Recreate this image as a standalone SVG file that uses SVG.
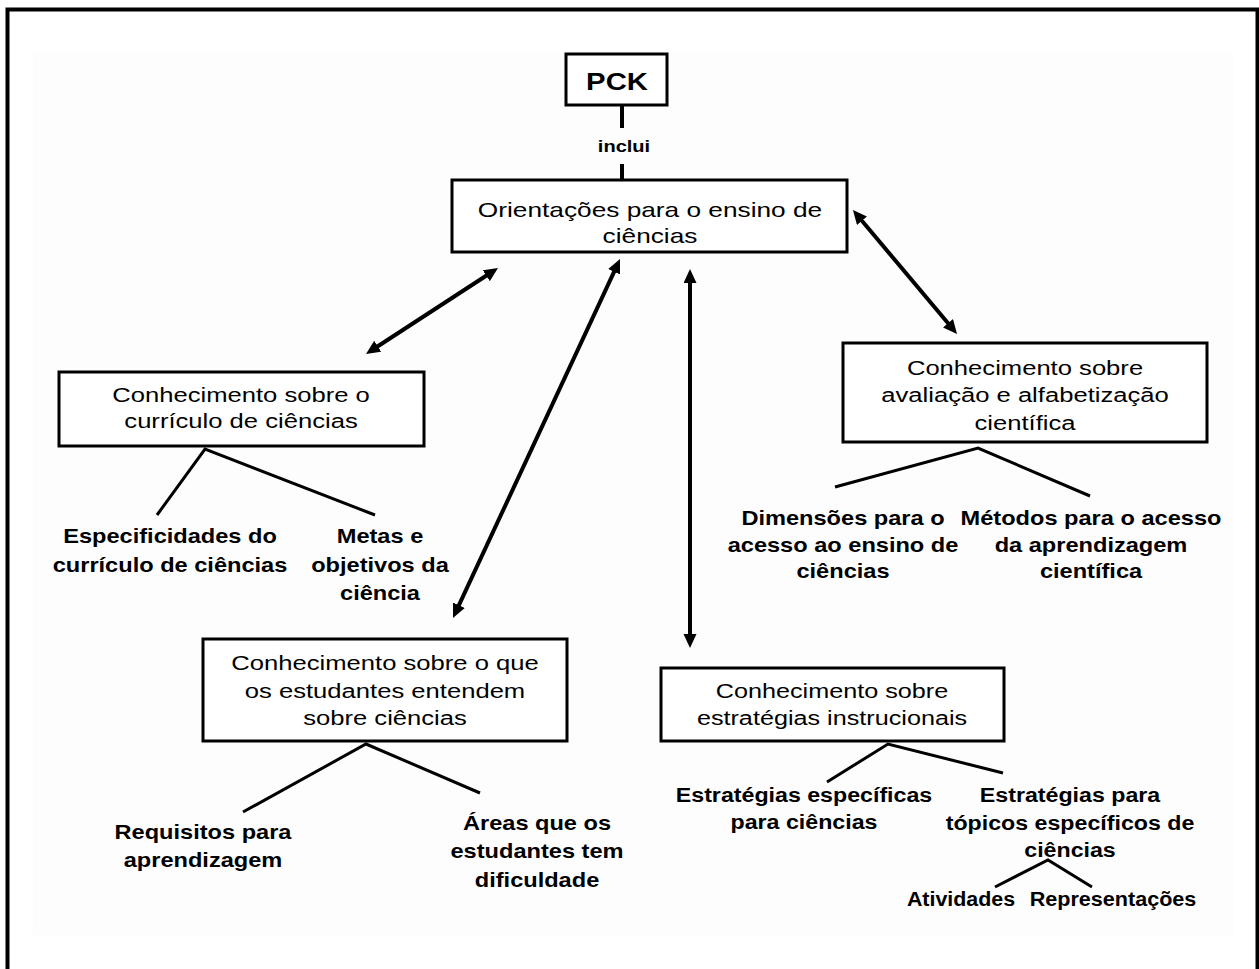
<svg xmlns="http://www.w3.org/2000/svg" width="1259" height="969" viewBox="0 0 1259 969">
  <defs>
    <style>
      .box { fill: #ffffff; stroke: #000000; stroke-width: 3; }
      .t { font-family: "Liberation Sans", Arial, sans-serif; font-size: 21px; fill: #000000; text-anchor: middle; }
      .b { font-family: "Liberation Sans", Arial, sans-serif; font-size: 20px; font-weight: bold; fill: #000000; text-anchor: middle; }
      .arrow { stroke: #000000; stroke-width: 4; fill: none; marker-start: url(#head); marker-end: url(#head); }
      .branch { stroke: #000000; stroke-width: 3; fill: none; }
      .link { stroke: #000000; stroke-width: 4; fill: none; }
    </style>
    <marker id="head" markerUnits="userSpaceOnUse" markerWidth="16" markerHeight="14" refX="4" refY="6.5" orient="auto-start-reverse">
      <path d="M0,0 L14,6.5 L0,13 z" fill="#000000"/>
    </marker>
  </defs>

  <!-- page -->
  <rect x="0" y="0" width="1259" height="969" fill="#ffffff"/>
  <rect x="33" y="53" width="1201" height="882" fill="#fdfdfd"/>
  <rect x="7.5" y="9.5" width="1250" height="980" fill="none" stroke="#000000" stroke-width="4"/>

  <!-- connectors -->
  <g id="connectors">
    <line class="link" x1="622" y1="105" x2="622" y2="128"/>
    <line class="link" x1="622" y1="164" x2="622" y2="180"/>
    <line class="arrow" x1="489.6" y1="273.5" x2="374.4" y2="348.5"/>
    <line class="arrow" x1="615.8" y1="268.1" x2="457.2" y2="608.9"/>
    <line class="arrow" x1="690" y1="279" x2="690" y2="638"/>
    <line class="arrow" x1="859.4" y1="217.7" x2="950.6" y2="326.3"/>
    <polyline class="branch" points="157,515 205,449 375,515"/>
    <polyline class="branch" points="835,487 978,448 1090,496"/>
    <polyline class="branch" points="243,812 366,744 480,793"/>
    <polyline class="branch" points="827,782 888,744 1003,773"/>
    <polyline class="branch" points="995,887 1048,860 1092,887"/>
  </g>

  <g id="pck">
    <rect class="box" x="566" y="54" width="101" height="51"/>
    <text class="b" style="font-size:24px" transform="translate(617,0) scale(1.22,1)" x="0" y="90">PCK</text>
  </g>

  <g id="inclui">
    <text class="b" style="font-size:17px" transform="translate(624,0) scale(1.18,1)" x="0" y="152">inclui</text>
  </g>

  <g id="orientacoes">
    <rect class="box" x="452" y="180" width="395" height="72"/>
    <text class="t" transform="translate(650,0) scale(1.25,1)" y="217"><tspan x="0">Orientações para o ensino de</tspan><tspan x="0" dy="26">ciências</tspan></text>
  </g>

  <g id="curriculo">
    <rect class="box" x="59" y="372" width="365" height="74"/>
    <text class="t" transform="translate(241,0) scale(1.22,1)" y="402"><tspan x="0">Conhecimento sobre o</tspan><tspan x="0" dy="26">currículo de ciências</tspan></text>
  </g>

  <g id="especificidades">
    <text class="b" transform="translate(170,0) scale(1.18,1)" y="543"><tspan x="0">Especificidades do</tspan><tspan x="0" dy="29">currículo de ciências</tspan></text>
  </g>

  <g id="metas">
    <text class="b" transform="translate(380,0) scale(1.18,1)" y="543"><tspan x="0">Metas e</tspan><tspan x="0" dy="29">objetivos da</tspan><tspan x="0" dy="28">ciência</tspan></text>
  </g>

  <g id="avaliacao">
    <rect class="box" x="843" y="343" width="364" height="99"/>
    <text class="t" transform="translate(1025,0) scale(1.22,1)" y="375"><tspan x="0">Conhecimento sobre</tspan><tspan x="0" dy="27">avaliação e alfabetização</tspan><tspan x="0" dy="28">científica</tspan></text>
  </g>

  <g id="dimensoes">
    <text class="b" transform="translate(843,0) scale(1.18,1)" y="525"><tspan x="0">Dimensões para o</tspan><tspan x="0" dy="27">acesso ao ensino de</tspan><tspan x="0" dy="26">ciências</tspan></text>
  </g>

  <g id="metodos">
    <text class="b" transform="translate(1091,0) scale(1.18,1)" y="525"><tspan x="0">Métodos para o acesso</tspan><tspan x="0" dy="27">da aprendizagem</tspan><tspan x="0" dy="26">científica</tspan></text>
  </g>

  <g id="estudantes">
    <rect class="box" x="203" y="639" width="364" height="102"/>
    <text class="t" transform="translate(385,0) scale(1.22,1)" y="670"><tspan x="0">Conhecimento sobre o que</tspan><tspan x="0" dy="28">os estudantes entendem</tspan><tspan x="0" dy="27">sobre ciências</tspan></text>
  </g>

  <g id="requisitos">
    <text class="b" transform="translate(203,0) scale(1.18,1)" y="839"><tspan x="0">Requisitos para</tspan><tspan x="0" dy="28">aprendizagem</tspan></text>
  </g>

  <g id="areas">
    <text class="b" transform="translate(537,0) scale(1.18,1)" y="830"><tspan x="0">Áreas que os</tspan><tspan x="0" dy="28">estudantes tem</tspan><tspan x="0" dy="29">dificuldade</tspan></text>
  </g>

  <g id="estrategias">
    <rect class="box" x="661" y="668" width="343" height="73"/>
    <text class="t" transform="translate(832,0) scale(1.2,1)" y="698"><tspan x="0">Conhecimento sobre</tspan><tspan x="0" dy="27">estratégias instrucionais</tspan></text>
  </g>

  <g id="estrategias-especificas">
    <text class="b" transform="translate(804,0) scale(1.16,1)" y="802"><tspan x="0">Estratégias específicas</tspan><tspan x="0" dy="27">para ciências</tspan></text>
  </g>

  <g id="estrategias-topicos">
    <text class="b" transform="translate(1070,0) scale(1.16,1)" y="802"><tspan x="0">Estratégias para</tspan><tspan x="0" dy="28">tópicos específicos de</tspan><tspan x="0" dy="27">ciências</tspan></text>
  </g>

  <g id="atividades">
    <text class="b" transform="translate(961,0) scale(1.07,1)" x="0" y="906">Atividades</text>
  </g>

  <g id="representacoes">
    <text class="b" transform="translate(1113,0) scale(1.08,1)" x="0" y="906">Representações</text>
  </g>
</svg>
